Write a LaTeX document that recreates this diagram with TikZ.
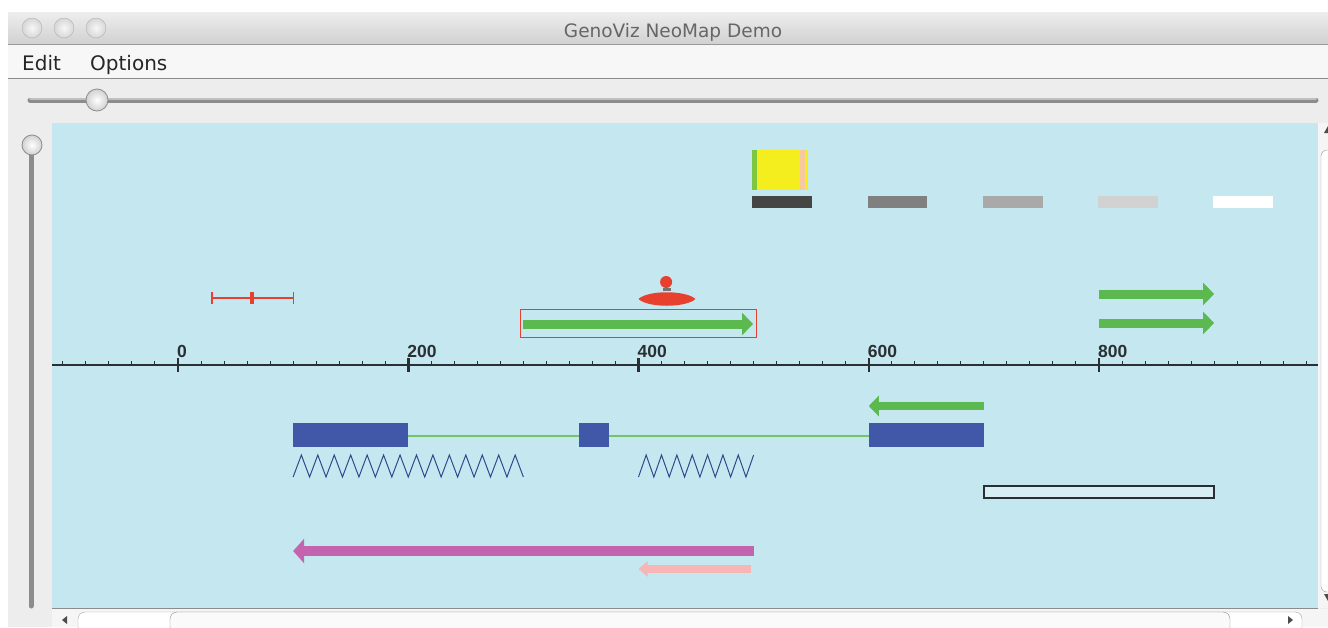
\documentclass[tikz,border=0pt]{standalone}
\usepackage{fontspec}
\setmainfont{DejaVu Sans}
\newfontfamily\axisfont{Liberation Sans}
\usetikzlibrary{arrows.meta}
\definecolor{panelblue}{RGB}{197,232,240}
\definecolor{wingray}{RGB}{238,237,237}
\definecolor{gfgreen}{RGB}{91,185,79}
\definecolor{gfred}{RGB}{232,64,46}
\definecolor{gfblue}{RGB}{65,87,167}
\definecolor{gfnavy}{RGB}{46,74,138}
\definecolor{gfmagenta}{RGB}{196,99,174}
\definecolor{gfpink}{RGB}{247,181,181}
\definecolor{gfyellow}{RGB}{244,238,30}
\definecolor{gfpeach}{RGB}{248,200,160}
\definecolor{axisink}{RGB}{42,47,51}
\definecolor{barA}{RGB}{69,69,69}
\definecolor{barB}{RGB}{128,128,128}
\definecolor{barC}{RGB}{169,169,169}
\definecolor{barD}{RGB}{210,210,210}
\definecolor{barE}{RGB}{255,255,255}
\begin{document}
\begin{tikzpicture}[x=1pt, y=-1pt,
    knob/.style={inner color=white, outer color=black!18, draw=black!45, line width=0.8pt},
    track/.style={line width=5pt, line cap=round, draw=black!45},
    fwdglyph/.style={line width=9pt, draw=gfgreen, -{Triangle[length=11pt, width=22pt]}},
    minortick/.style={line width=1pt, draw=axisink},
    majortick/.style={line width=2.5pt, draw=axisink},
    axislabel/.style={anchor=base west, inner sep=0pt, xshift=-1pt, text=axisink, font=\axisfont\bfseries\fontsize{17.5}{19}\selectfont},
    exon/.style={fill=gfblue},
    intron/.style={line width=2pt, draw=gfgreen!85!white},
    repeatline/.style={line width=1pt, draw=gfnavy, line join=miter},
    menutext/.style={anchor=base west, inner sep=0pt, text=black!85, font=\fontsize{20}{22}\selectfont}]
\useasboundingbox (0,0) rectangle (1328,627);
\fill[white] (0,0) rectangle (1328,627);
\shade[top color=black!7, bottom color=black!18] (8,12) rectangle (1328,44);
\draw[black!40] (8,44) -- (1328,44);
\foreach \cx in {32,64,96}
    \draw[inner color=black!3, outer color=black!16, draw=black!30] (\cx,28) circle (10);
\node[anchor=base, inner sep=0pt, text=black!60, font=\fontsize{18.5}{20}\selectfont] (title) at (673,37) {GenoViz NeoMap Demo};
\fill[black!3] (8,45) rectangle (1328,78);
\node[menutext] (edit) at (22,70) {Edit};
\node[menutext] (options) at (90,70) {Options};
\draw[black!45] (8,78) -- (1328,78);
\fill[wingray] (8,79) rectangle (1328,627);
\draw[track] (30,100) -- (1316,100);
\draw[line width=1.5pt, black!25, line cap=round] (30,99) -- (1316,99);
\draw[knob] (97,100) circle (11);
\fill[panelblue] (52,123) rectangle (1318,608);
\draw[track] (31,145) -- (31,606);
\draw[knob] (32,145) circle (10);
\fill[black!4] (1318,123) rectangle (1328,608);
\draw[black!40, fill=white, rounded corners=6pt] (1321,150) rectangle (1336,592);
\fill[black!70] (1324,133) -- (1328,126) -- (1328,133) -- cycle;
\fill[black!70] (1324,594) -- (1328,601) -- (1328,594) -- cycle;
\draw[black!45] (52,608) -- (1318,608);
\fill[black!4] (52,609) rectangle (1328,627);
\draw[black!35, fill=white, rounded corners=7pt] (78,612) rectangle (1302,634);
\draw[black!45, fill=black!2, rounded corners=7pt] (170,612) rectangle (1230,634);
\fill[black!70] (62,620) -- (67,616) -- (67,624) -- cycle;
\fill[black!70] (1293,620) -- (1288,616) -- (1288,624) -- cycle;
\draw[line width=2pt, axisink] (52,365) -- (1318,365);
\begin{scope}[xshift=178pt, x=1.15125pt]
    \foreach \v in {-100,-80,...,980}
        \draw[minortick] (\v,361) -- (\v,366);
    \foreach \v in {0,200,...,800} {
        \draw[majortick] (\v,358) -- (\v,372);
        \node[axislabel] (lab\v) at (\v,357) {\v};
    }
    \fill[gfyellow] (499,150) rectangle (547,190);
    \fill[gfgreen!80!yellow] (499,150) rectangle (503,190);
    \fill[gfpeach] (540,150) rectangle (545,190);
    \foreach \k/\c in {0/barA,1/barB,2/barC,3/barD,4/barE}
        \fill[\c] (499+100*\k,196) rectangle (551+100*\k,208);
    \draw[gfred, line width=1.2pt] (29.5,298) -- (100,298);
    \draw[gfred, line width=1.2pt] (29.5,292) -- (29.5,304);
    \draw[gfred, line width=1.2pt] (100,292) -- (100,304);
    \fill[gfred] (62.5,292) rectangle (66,304);
    \fill[gfred] (424,282) circle (6pt);
    \fill[black!55] (421,288) rectangle (428,291);
    \fill[gfred] (400,299) .. controls (408,290) and (441,290) .. (449.5,299)
        .. controls (441,308) and (408,308) .. cycle;
    \draw[gfred, line width=1.2pt] (297.5,309.5) rectangle (502.5,337.5);
    \draw[fwdglyph] (299.6,324) -- (499.5,324);
    \draw[fwdglyph] (800,294) -- (900,294);
    \draw[fwdglyph] (800,323) -- (900,323);
    \draw[fwdglyph, line width=8pt, -{Triangle[length=10pt, width=20pt]}] (700,406) -- (600,406);
    \draw[intron] (200,436) -- (348.5,436);
    \draw[intron] (374.5,436) -- (600,436);
    \fill[exon] (100,423) rectangle (200,447);
    \fill[exon] (348.5,423) rectangle (374.5,447);
    \fill[exon] (600,423) rectangle (700,447);
    \draw[repeatline] (100,477) \foreach \i in {1,...,14} { -- ++(7.143,-22) -- ++(7.143,22) };
    \draw[repeatline] (400,477) \foreach \i in {1,...,7} { -- ++(6.667,-22) -- ++(6.667,22) } -- ++(6.667,-22);
    \draw[axisink, line width=1.3pt, fill=panelblue!70!white] (700,486) rectangle (900,498);
    \draw[fwdglyph, draw=gfmagenta, line width=10pt, -{Triangle[length=11pt, width=24pt]}] (500,551) -- (100,551);
    \draw[fwdglyph, draw=gfpink, line width=8pt, -{Triangle[length=9pt, width=15pt]}] (498,569) -- (400,569);
\end{scope}
\end{tikzpicture}
\end{document}
